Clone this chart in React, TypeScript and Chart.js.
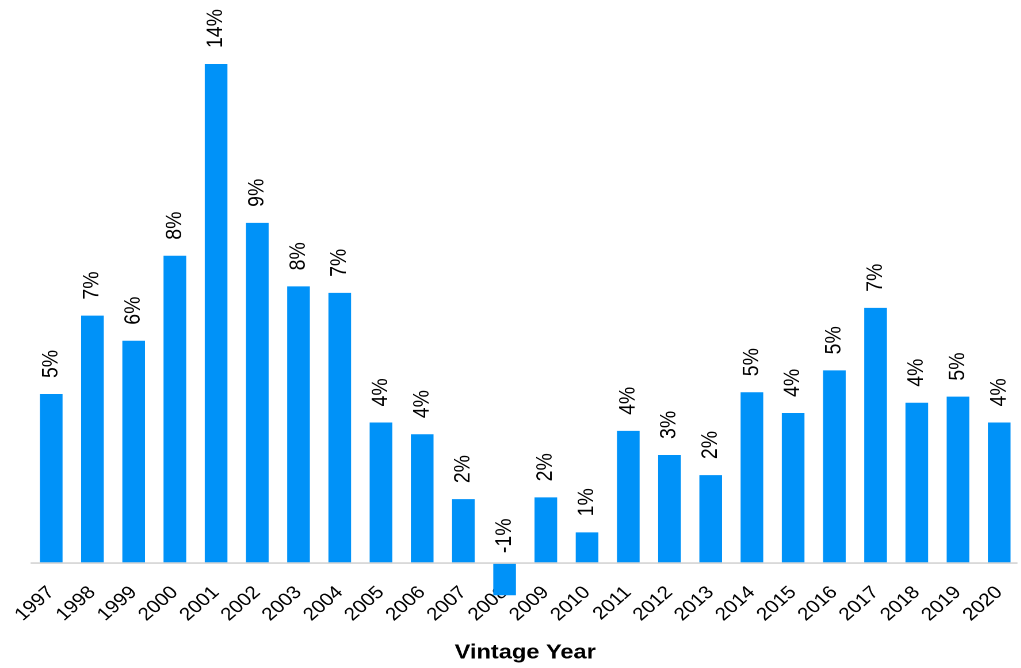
import React, { useEffect, useRef } from "react";
import { Chart, registerables } from "chart.js";

Chart.register(...registerables);

// Vintage years and their returns (%)
const years: string[] = [
  "1997", "1998", "1999", "2000", "2001", "2002", "2003", "2004",
  "2005", "2006", "2007", "2008", "2009", "2010", "2011", "2012",
  "2013", "2014", "2015", "2016", "2017", "2018", "2019", "2020",
];

const returns: number[] = [
  4.63, 6.78, 6.09, 8.42, 13.67, 9.32, 7.58, 7.4,
  3.85, 3.53, 1.75, -0.88, 1.8, 0.84, 3.62, 2.96,
  2.41, 4.68, 4.11, 5.28, 6.99, 4.39, 4.56, 3.85,
];

const axisTitle = "Vintage Year";

const BAR_COLOR = "#0092F8";
const FONT = "'Liberation Sans', Arial, sans-serif";

// The drawing is laid out on a narrower canvas and widened horizontally.
const PAGE_W = 1021;
const PAGE_H = 668;
const SCALE_X = 1.15;
const LOGICAL_W = PAGE_W / SCALE_X;

// Rotated value labels above each bar plus the zero line
const valueLabels = {
  id: "valueLabels",
  afterDatasetsDraw(chart: any) {
    const { ctx, chartArea } = chart;
    const yScale = chart.scales.y;
    const zeroY = yScale.getPixelForValue(0);

    ctx.save();
    ctx.strokeStyle = "#d4d4d4";
    ctx.lineWidth = 1.6;
    ctx.beginPath();
    ctx.moveTo(chartArea.left, zeroY);
    ctx.lineTo(chartArea.right - 2, zeroY);
    ctx.stroke();
    ctx.restore();

    const meta = chart.getDatasetMeta(0);
    const data = chart.data.datasets[0].data as number[];
    ctx.save();
    ctx.fillStyle = "#000";
    ctx.font = `19.5px ${FONT}`;
    ctx.textAlign = "left";
    ctx.textBaseline = "middle";
    meta.data.forEach((bar: any, i: number) => {
      const v = data[i];
      const y = v >= 0 ? bar.y - 16 : zeroY - 10;
      ctx.save();
      ctx.translate(bar.x, y);
      ctx.rotate(-Math.PI / 2);
      ctx.fillText(`${Math.round(v)}%`, 0, 0);
      ctx.restore();
    });
    ctx.restore();
  },
};

export default function App() {
  const canvasRef = useRef<HTMLCanvasElement | null>(null);

  useEffect(() => {
    if (!canvasRef.current) return;
    const chart = new Chart(canvasRef.current, {
      type: "bar",
      data: {
        labels: years,
        datasets: [
          {
            data: returns,
            backgroundColor: BAR_COLOR,
            borderWidth: 0,
            categoryPercentage: 1,
            barPercentage: 0.55,
            clip: false as any,
          },
        ],
      },
      options: {
        animation: false,
        responsive: true,
        maintainAspectRatio: false,
        devicePixelRatio: 2,
        layout: { padding: { left: 26.6, right: 1.5, top: 15.5, bottom: 0 } },
        plugins: {
          legend: { display: false },
          tooltip: { enabled: false },
          title: { display: false },
        },
        scales: {
          x: {
            grid: { display: false },
            border: { display: false },
            ticks: {
              autoSkip: false,
              minRotation: 45,
              maxRotation: 45,
              padding: 4,
              color: "#000",
              font: { family: FONT, size: 18 },
            },
            title: {
              display: true,
              text: axisTitle,
              color: "#000",
              font: { family: FONT, size: 20.5, weight: "bold" },
              padding: { top: 0, bottom: 3 },
            },
            afterFit: (scale: any) => {
              scale.height = 98;
            },
          },
          y: {
            display: false,
            min: -0.19,
            max: 15,
          },
        },
      },
      plugins: [valueLabels],
    });
    return () => chart.destroy();
  }, []);

  return (
    <div
      style={{
        position: "fixed",
        left: 0,
        top: 0,
        width: PAGE_W,
        height: PAGE_H,
        overflow: "hidden",
        background: "#fff",
      }}
    >
      <div
        style={{
          width: LOGICAL_W,
          height: PAGE_H,
          transform: `scaleX(${SCALE_X})`,
          transformOrigin: "0 0",
        }}
      >
        <canvas ref={canvasRef} />
      </div>
    </div>
  );
}
